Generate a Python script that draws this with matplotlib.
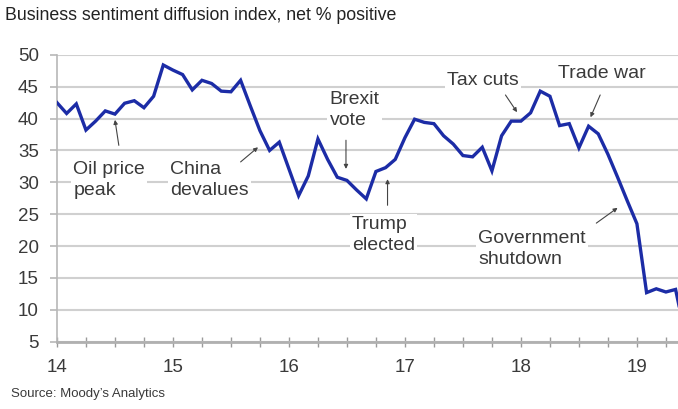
import numpy as np
import matplotlib
matplotlib.use("Agg")
import matplotlib.pyplot as plt
from matplotlib.ticker import MultipleLocator, FixedLocator

# monthly index, Jan 2014 onwards (months since Jan 2014)
sentiment = [42.5, 40.8, 42.3, 38.2, 39.6, 41.2, 40.7, 42.4, 42.8, 41.7,
             43.5, 48.4, 47.6, 46.9, 44.5, 46.0, 45.5, 44.3, 44.2, 46.0,
             42.0, 38.1, 35.0, 36.3, 32.1, 27.9, 31.0, 36.8, 33.6, 30.8,
             30.3, 28.8, 27.4, 31.7, 32.3, 33.6, 37.0, 39.9, 39.4, 39.2,
             37.3, 36.0, 34.2, 34.0, 35.5, 31.8, 37.3, 39.6, 39.6, 40.9,
             44.3, 43.5, 38.9, 39.2, 35.4, 38.8, 37.6, 34.4, 30.8, 27.1,
             23.5, 12.7, 13.3, 12.8, 13.2, 6.0]
months = np.arange(len(sentiment))
year_labels = ['14', '15', '16', '17', '18', '19']

# annotations: label, text position, arrow tail, arrow tip (months, index value)
notes = [
    ('Oil price\npeak', (1.7, 30.4), (6.4, 35.8), (6.0, 39.8)),
    ('China\ndevalues', (11.7, 30.4), (19.0, 33.2), (20.8, 35.5)),
    ('Brexit\nvote', (28.2, 41.3), (29.9, 36.6), (29.9, 32.1)),
    ('Trump\nelected', (30.5, 21.7), (34.2, 26.4), (34.2, 30.5)),
    ('Tax cuts', (40.4, 46.0), (46.4, 43.7), (47.6, 41.0)),
    ('Trade war', (51.8, 47.1), (56.2, 43.7), (55.2, 40.2)),
    ('Government\nshutdown', (43.6, 19.6), (55.8, 23.6), (58.0, 26.0)),
]

plt.rcParams['font.family'] = ['Liberation Sans', 'DejaVu Sans']
grid_col = '#d0d0d0'
text_col = '#3a3a3a'

fig = plt.figure(figsize=(6.78, 4.09), dpi=100)
ax = fig.add_axes([0.084, 0.1645, 0.916, 0.7015])

ax.plot(months, sentiment, color='#1c2ca6', linewidth=2.4, zorder=3,
        solid_joinstyle='miter')

ax.set_xlim(0, 64.25)
ax.set_ylim(5, 50)
ax.yaxis.set_major_locator(MultipleLocator(5))
ax.xaxis.set_major_locator(FixedLocator(np.arange(0, 61, 12)))
ax.xaxis.set_minor_locator(MultipleLocator(3))
ax.set_xticklabels(year_labels)

ax.grid(axis='y', color=grid_col, linewidth=1.5, zorder=0)
for s in ['top', 'right']:
    ax.spines[s].set_visible(False)
ax.spines['left'].set_color('#b8b8b8')
ax.spines['left'].set_linewidth(1.2)
ax.spines['bottom'].set_color('#b0b0b0')
ax.spines['bottom'].set_linewidth(2)

ax.tick_params(axis='y', direction='out', length=5, width=1.2,
               color='#b8b8b8', labelsize=13.5, labelcolor=text_col, pad=8)
ax.tick_params(axis='x', which='both', direction='inout', length=7.5,
               width=1, color='#9a9a9a', labelsize=13.5, labelcolor=text_col,
               pad=9)

for label, txt, tail, tip in notes:
    ax.text(txt[0], txt[1], label, ha='left', va='center', fontsize=14,
            color=text_col, linespacing=1.3, zorder=2,
            bbox=dict(facecolor='white', edgecolor='none', pad=1.5))
    ax.annotate('', xy=tip, xytext=tail,
                arrowprops=dict(arrowstyle='-|>', color='#444444', lw=0.8,
                                mutation_scale=6, shrinkA=0, shrinkB=0),
                zorder=4)

fig.text(0.008, 1 - 19.5 / 409, 'Business sentiment diffusion index, net % positive',
         ha='left', va='baseline', fontsize=12.8, color='#222222')
fig.text(0.016, 1 - 397 / 409, "Source: Moody\u2019s Analytics",
         ha='left', va='baseline', fontsize=9.5, color=text_col)

fig.savefig('out.png', dpi=100)
